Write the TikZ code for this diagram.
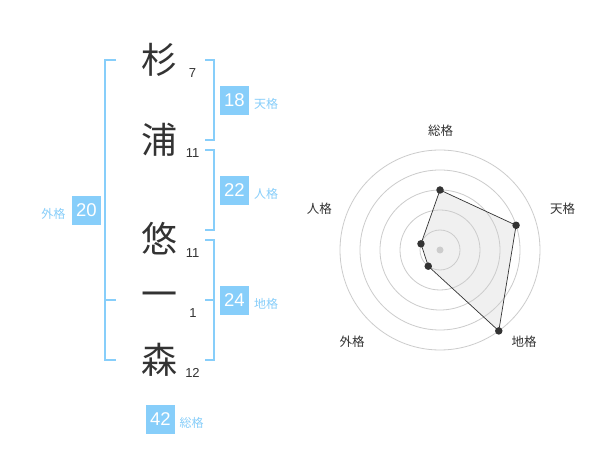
\documentclass[tikz,border=0pt]{standalone}
\usepackage{fontspec}
\setmainfont{Liberation Sans}
\newfontfamily\jp{Noto Sans CJK JP}
\usetikzlibrary{calc}
\definecolor{sky}{HTML}{87CEFA}
\definecolor{ink}{HTML}{333333}
\definecolor{ring}{HTML}{CCCCCC}
\definecolor{area}{HTML}{F0F0F0}
\tikzset{
  kanji/.style={font=\jp\fontsize{36}{36}\selectfont, text=ink, inner sep=0pt},
  strokes/.style={font=\fontsize{13}{13}\selectfont, text=ink, inner sep=0pt},
  bracket/.style={draw=sky, line width=2pt},
  numbox/.style={fill=sky, text=white, minimum size=29pt, inner sep=0pt, font=\fontsize{18.5}{18.5}\selectfont},
  boxlabel/.style={font=\jp\fontsize{12}{12}\selectfont, text=sky, inner sep=0pt},
  radarlabel/.style={font=\jp\fontsize{12.5}{12.5}\selectfont, text=ink, inner sep=0pt},
  ringline/.style={draw=ring, line width=0.8pt},
  dot/.style={circle, fill=ink, minimum size=7.5pt, inner sep=0pt},
}
\begin{document}
\begin{tikzpicture}[x=1pt,y=-1pt]
\useasboundingbox[fill=white] (0,0) rectangle (600,470);
% characters
\node[kanji] (c1) at (159,60) {杉};
\node[kanji] (c2) at (159,140) {浦};
\node[kanji] (c3) at (159,239) {悠};
\node[kanji] (c4) at (159,300) {一};
\node[kanji] (c5) at (159,360) {森};
% stroke counts
\node[strokes] (n1) at (192.5,72.7) {7};
\node[strokes] (n2) at (192.5,153.3) {11};
\node[strokes] (n3) at (192.5,252.7) {11};
\node[strokes] (n4) at (193,312.7) {1};
\node[strokes] (n5) at (192.5,372.7) {12};
% brackets
\draw[bracket] (116,60) -- (105,60) -- (105,360) -- (116,360);
\draw[bracket] (105,300) -- (116,300);
\draw[bracket] (205,60) -- (214,60) -- (214,140) -- (205,140);
\draw[bracket] (205,150) -- (214,150) -- (214,230) -- (205,230);
\draw[bracket] (205,240) -- (214,240) -- (214,360) -- (205,360);
\draw[bracket] (205,300) -- (214,300);
% boxes
\node[numbox] (b18) at (234.5,100.5) {18};
\node[boxlabel] (l18) at (266,104) {天格};
\node[numbox] (b22) at (234.5,190.5) {22};
\node[boxlabel] (l22) at (266,194) {人格};
\node[numbox] (b24) at (234.5,300.5) {24};
\node[boxlabel] (l24) at (266,304) {地格};
\node[numbox] (b20) at (86.3,210.5) {20};
\node[boxlabel] (l20) at (53.3,214) {外格};
\node[numbox] (b42) at (160.5,419) {42};
\node[boxlabel] (l42) at (191.7,422.7) {総格};
% radar
\coordinate (o) at (440,250);
\coordinate (ptot) at ($(o)+(-90:60)$);
\coordinate (pten) at ($(o)+(-18:80)$);
\coordinate (pchi) at ($(o)+(54:100)$);
\coordinate (pgai) at ($(o)+(126:20)$);
\coordinate (pjin) at ($(o)+(198:20)$);
\fill[area] (ptot) -- (pten) -- (pchi) -- (pgai) -- (pjin) -- cycle;
\foreach \r in {20,40,60,80,100} \draw[ringline] (o) circle[radius=\r];
\fill[ring] (o) circle[radius=3.5];
\draw[draw=ink, line width=0.7pt] (ptot) -- (pten) -- (pchi) -- (pgai) -- (pjin) -- cycle;
\foreach \p in {ptot,pten,pchi,pgai,pjin} \node[dot] at (\p) {};
\node[radarlabel] (rtot) at (440.5,130.7) {総格};
\node[radarlabel] (rten) at (562.5,209) {天格};
\node[radarlabel] (rchi) at (524,341.7) {地格};
\node[radarlabel] (rgai) at (352,341.7) {外格};
\node[radarlabel] (rjin) at (319.3,209) {人格};
\end{tikzpicture}
\end{document}
